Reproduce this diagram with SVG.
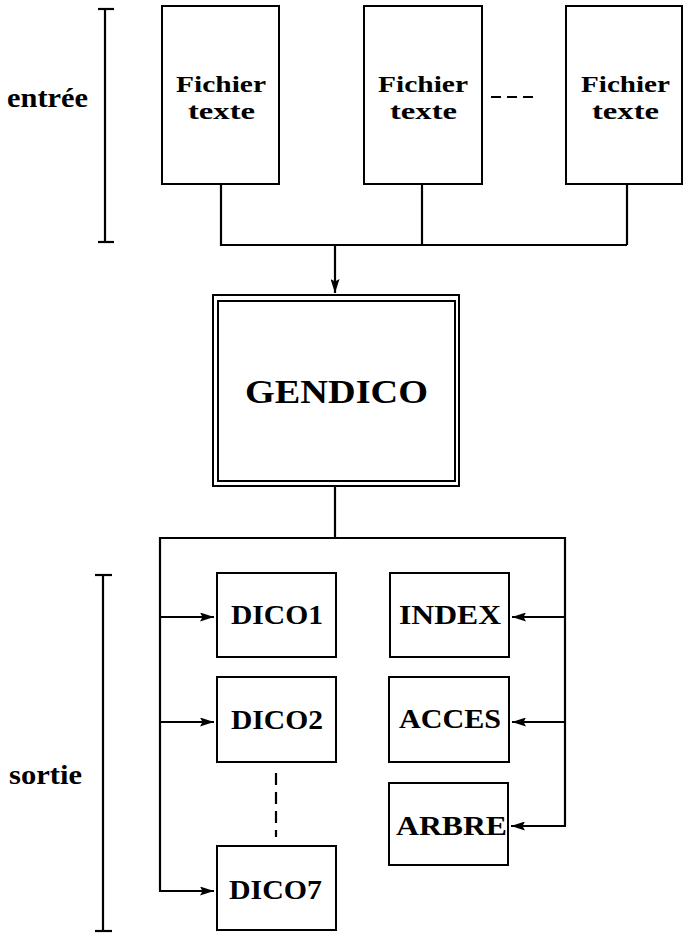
<svg xmlns="http://www.w3.org/2000/svg" width="683" height="934" viewBox="0 0 683 934">
<style>
.box{fill:#fff;stroke:#000;stroke-width:2}
.ln{fill:none;stroke:#000;stroke-width:2.2}
.t{font-family:"Liberation Serif","DejaVu Serif",serif;font-weight:bold;fill:#000}
.f{font-size:24px}
.d{font-size:28px}
</style>
<defs>
<marker id="ah" viewBox="0 0 14 9" refX="14" refY="4.5" markerWidth="14" markerHeight="9" markerUnits="userSpaceOnUse" orient="auto">
<path d="M0,0 L14,4.5 L0,9 L2.5,4.5 Z" fill="#000"/>
</marker>
</defs>
<rect width="683" height="934" fill="#fff"/>
<g id="label-entree">
<line class="ln" x1="105" y1="9" x2="105" y2="242"/>
<line class="ln" x1="98" y1="9" x2="114" y2="9"/>
<line class="ln" x1="98" y1="242" x2="114" y2="242"/>
<text class="t" x="7" y="107" font-size="27" textLength="81" lengthAdjust="spacingAndGlyphs">entrée</text>
</g>
<g id="label-sortie">
<line class="ln" x1="103" y1="575" x2="103" y2="931"/>
<line class="ln" x1="95" y1="575" x2="112" y2="575"/>
<line class="ln" x1="95" y1="931" x2="112" y2="931"/>
<text class="t" x="9" y="784" font-size="27" textLength="73" lengthAdjust="spacingAndGlyphs">sortie</text>
</g>
<g id="fichier1">
<rect class="box" x="162" y="6" width="117" height="178"/>
<text class="t f" x="176" y="92" textLength="90" lengthAdjust="spacingAndGlyphs">Fichier</text>
<text class="t f" x="188" y="119" textLength="67" lengthAdjust="spacingAndGlyphs">texte</text>
</g>
<g id="fichier2">
<rect class="box" x="364" y="6" width="118" height="178"/>
<text class="t f" x="378" y="92" textLength="90" lengthAdjust="spacingAndGlyphs">Fichier</text>
<text class="t f" x="390" y="119" textLength="67" lengthAdjust="spacingAndGlyphs">texte</text>
</g>
<g id="fichier3">
<rect class="box" x="566" y="6" width="116" height="178"/>
<text class="t f" x="581" y="92" textLength="89" lengthAdjust="spacingAndGlyphs">Fichier</text>
<text class="t f" x="592" y="119" textLength="67" lengthAdjust="spacingAndGlyphs">texte</text>
</g>
<g id="gendico">
<rect class="box" x="213" y="295" width="246" height="191"/>
<rect class="box" x="218" y="301" width="237" height="180"/>
<text class="t" x="245" y="403" font-size="34" textLength="183" lengthAdjust="spacingAndGlyphs">GENDICO</text>
</g>
<g id="dico1">
<rect class="box" x="217" y="573" width="119" height="84"/>
<text class="t d" x="231" y="624" textLength="92" lengthAdjust="spacingAndGlyphs">DICO1</text>
</g>
<g id="dico2">
<rect class="box" x="217" y="677" width="119" height="85"/>
<text class="t d" x="231" y="729" textLength="92" lengthAdjust="spacingAndGlyphs">DICO2</text>
</g>
<g id="dico7">
<rect class="box" x="217" y="846" width="119" height="84"/>
<text class="t d" x="229" y="899" textLength="93" lengthAdjust="spacingAndGlyphs">DICO7</text>
</g>
<g id="index">
<rect class="box" x="390" y="573" width="119" height="84"/>
<text class="t d" x="399" y="624" textLength="102" lengthAdjust="spacingAndGlyphs">INDEX</text>
</g>
<g id="acces">
<rect class="box" x="389" y="677" width="120" height="85"/>
<text class="t d" x="399" y="728" textLength="102" lengthAdjust="spacingAndGlyphs">ACCES</text>
</g>
<g id="arbre">
<rect class="box" x="389" y="783" width="119" height="82"/>
<text class="t d" x="396" y="835" textLength="111" lengthAdjust="spacingAndGlyphs">ARBRE</text>
</g>
<g id="connectors">
<line class="ln" x1="491" y1="97" x2="539" y2="97" stroke-dasharray="10,6"/>
<polyline class="ln" points="221,184 221,245 627,245"/>
<line class="ln" x1="422" y1="184" x2="422" y2="245"/>
<line class="ln" x1="627" y1="184" x2="627" y2="245"/>
<line class="ln" x1="335" y1="245" x2="335" y2="293" marker-end="url(#ah)"/>
<line class="ln" x1="335" y1="486" x2="335" y2="538"/>
<polyline class="ln" points="160,891 160,538 565,538 565,826"/>
<line class="ln" x1="160" y1="617" x2="214" y2="617" marker-end="url(#ah)"/>
<line class="ln" x1="160" y1="722" x2="214" y2="722" marker-end="url(#ah)"/>
<line class="ln" x1="159" y1="891" x2="214" y2="891" marker-end="url(#ah)"/>
<line class="ln" x1="565" y1="617" x2="512" y2="617" marker-end="url(#ah)"/>
<line class="ln" x1="565" y1="722" x2="512" y2="722" marker-end="url(#ah)"/>
<line class="ln" x1="566" y1="826" x2="511" y2="826" marker-end="url(#ah)"/>
<line class="ln" x1="276" y1="773" x2="276" y2="837" stroke-dasharray="12,7"/>
</g>
</svg>
